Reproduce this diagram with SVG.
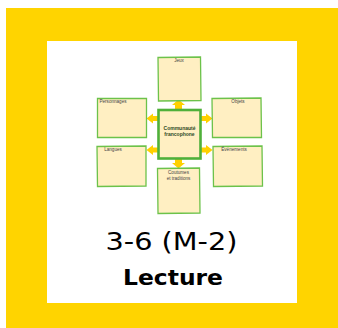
<svg xmlns="http://www.w3.org/2000/svg" width="338" height="328" viewBox="0 0 338 328">
<style>
.box{fill:#FFEFC2;stroke:#6CC24A;stroke-width:1.3}
.ctr{fill:#FFEFC2;stroke:#4FB03A;stroke-width:2.6}
.lbl{font-family:"Liberation Sans",Arial,sans-serif;font-size:4.6px;fill:#444;text-anchor:middle}
.clbl{font-family:"Liberation Sans",Arial,sans-serif;font-size:5px;font-weight:bold;fill:#2E4A1E;text-anchor:middle}
.arr{fill:#FFD000}
.ttl{font-family:'Comic Sans MS','DejaVu Sans',sans-serif;fill:#000;text-anchor:middle}
</style>
<rect x="6" y="8" width="332" height="320" fill="#FFD400"/>
<rect x="47" y="41" width="250" height="262" fill="#FFFFFF"/>
<g id="connectors">
<path class="arr" d="M175,110 L175,105 L172,105 L178.5,99.5 L185,105 L182,105 L182,110 Z"/>
<path class="arr" d="M158,116 L153,116 L153,113.5 L146.5,118.5 L153,123.5 L153,121 L158,121 Z"/>
<path class="arr" d="M158,147.5 L153,147.5 L153,145 L146.5,150 L153,155 L153,152.5 L158,152.5 Z"/>
<path class="arr" d="M201,116 L206,116 L206,113.5 L212.5,118.5 L206,123.5 L206,121 L201,121 Z"/>
<path class="arr" d="M201,147.5 L206,147.5 L206,145 L212.5,150 L206,155 L206,152.5 L201,152.5 Z"/>
<path class="arr" d="M175,158 L175,163 L172,163 L178.5,168.5 L185,163 L182,163 L182,158 Z"/>
</g>
<g id="jeux">
<polygon class="box" points="158,57.5 200.5,57 201,100.5 158.5,101"/>
<text class="lbl" x="179" y="62">Jeux</text>
</g>
<g id="personnages">
<polygon class="box" points="97.5,98.5 146.5,98.5 146.5,137.5 97.5,137.5"/>
<text class="lbl" x="113" y="103">Personnages</text>
</g>
<g id="objets">
<polygon class="box" points="212,98.5 261,98 261.5,137.5 212.5,137.5"/>
<text class="lbl" x="238" y="103">Objets</text>
</g>
<g id="centre">
<rect class="ctr" x="158.5" y="110" width="42" height="48.5"/>
<text class="clbl" x="179.5" y="130">Communauté</text>
<text class="clbl" x="179.5" y="136">francophone</text>
</g>
<g id="langues">
<polygon class="box" points="97,146.5 146,146 146,186 97.5,186.5"/>
<text class="lbl" x="113" y="151">Langues</text>
</g>
<g id="evenements">
<polygon class="box" points="213,146.5 262,146 262.5,186 213.5,186.5"/>
<text class="lbl" x="234" y="151">Événements</text>
</g>
<g id="coutumes">
<polygon class="box" points="157.5,168.5 199.5,168 200,213 158,213.5"/>
<text class="lbl" x="178.5" y="174">Coutumes</text>
<text class="lbl" x="178.5" y="179.5">et traditions</text>
</g>
<text class="ttl" x="171.5" y="250" font-size="24" textLength="132" lengthAdjust="spacingAndGlyphs">3-6 (M-2)</text>
<text class="ttl" x="173" y="285" font-size="21" font-weight="bold" textLength="100" lengthAdjust="spacingAndGlyphs">Lecture</text>
</svg>
